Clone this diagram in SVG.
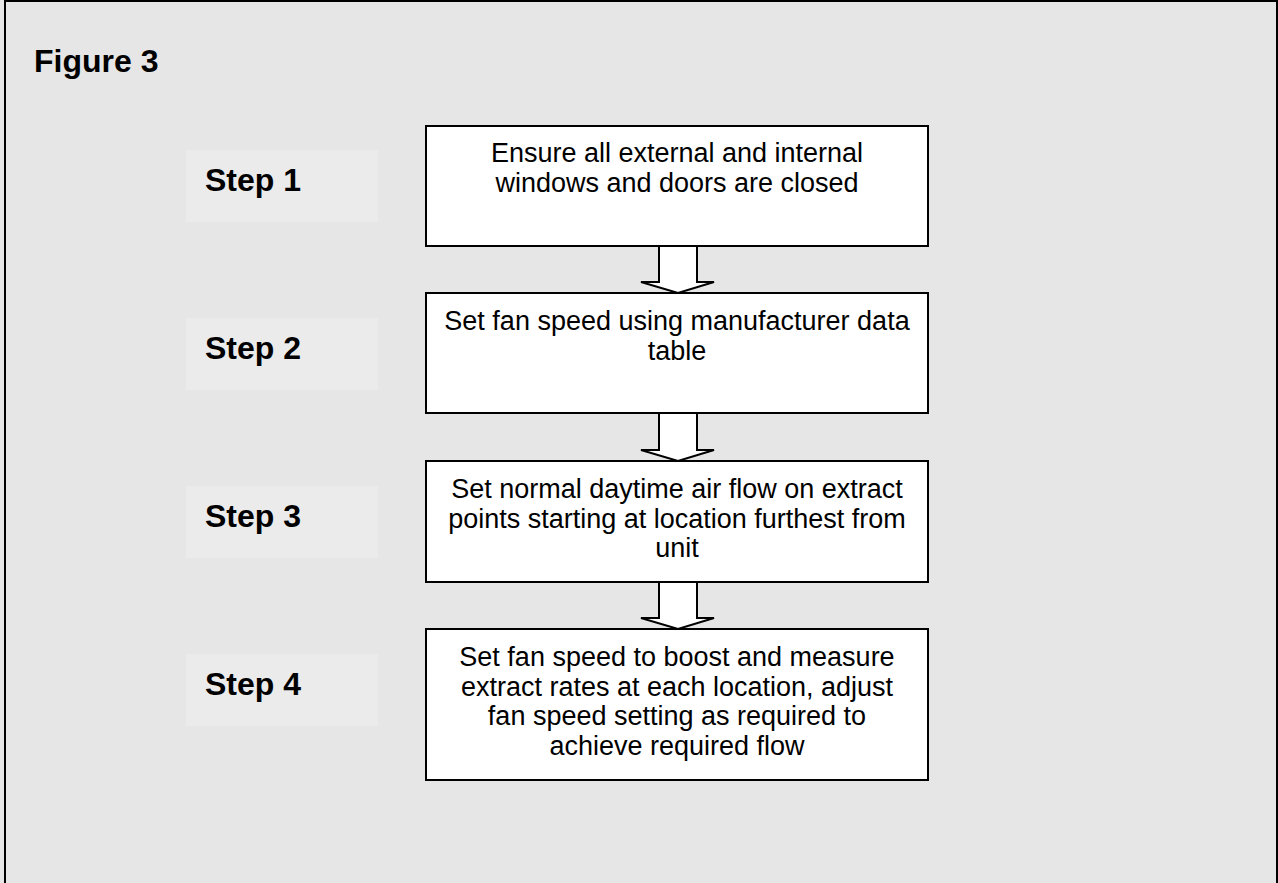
<svg xmlns="http://www.w3.org/2000/svg" width="1278" height="883" viewBox="0 0 1278 883">
<defs>
<style>
.bg{fill:#e6e6e6}
.frame{fill:#e6e6e6;stroke:#000;stroke-width:2}
.lbl{fill:#ebebeb}
.box{fill:#fff;stroke:#000;stroke-width:2}
.arrow{fill:#fff;stroke:#000;stroke-width:2;stroke-linejoin:miter}
.title{font-family:"Liberation Sans",Arial,sans-serif;font-weight:bold;font-size:32px;fill:#000}
.body{font-family:"Liberation Sans",Arial,sans-serif;font-size:27px;fill:#000;text-anchor:middle}
</style>
</defs>
<rect class="bg" x="0" y="0" width="1278" height="883"/>
<rect class="frame" x="5" y="1" width="1272" height="900"/>
<text class="title" x="34" y="72">Figure 3</text>

<g id="step1">
<rect class="lbl" x="186" y="150" width="192" height="72"/>
<text class="title" x="205" y="191">Step 1</text>
</g>
<g id="box1">
<rect class="box" x="426" y="126" width="502" height="120"/>
<text class="body" x="677" y="162">Ensure all external and internal</text>
<text class="body" x="677" y="191.5">windows and doors are closed</text>
</g>

<g id="step2">
<rect class="lbl" x="186" y="318" width="192" height="72"/>
<text class="title" x="205" y="359">Step 2</text>
</g>
<g id="box2">
<rect class="box" x="426" y="293" width="502" height="120"/>
<text class="body" x="677" y="330">Set fan speed using manufacturer data</text>
<text class="body" x="677" y="359.5">table</text>
</g>

<g id="step3">
<rect class="lbl" x="186" y="486" width="192" height="72"/>
<text class="title" x="205" y="527">Step 3</text>
</g>
<g id="box3">
<rect class="box" x="426" y="461" width="502" height="121"/>
<text class="body" x="677" y="498">Set normal daytime air flow on extract</text>
<text class="body" x="677" y="527.5">points starting at location furthest from</text>
<text class="body" x="677" y="557">unit</text>
</g>

<g id="step4">
<rect class="lbl" x="186" y="654" width="192" height="72"/>
<text class="title" x="205" y="695">Step 4</text>
</g>
<g id="box4">
<rect class="box" x="426" y="629" width="502" height="151"/>
<text class="body" x="677" y="666">Set fan speed to boost and measure</text>
<text class="body" x="677" y="695.5">extract rates at each location, adjust</text>
<text class="body" x="677" y="725">fan speed setting as required to</text>
<text class="body" x="677" y="754.5">achieve required flow</text>
</g>

<g id="connectors">
<polygon class="arrow" points="659,246 697,246 697,282 714,282 678,293 641,282 659,282"/>
<polygon class="arrow" points="659,413 697,413 697,450 714,450 678,461 641,450 659,450"/>
<polygon class="arrow" points="659,582 697,582 697,618 714,618 678,629 641,618 659,618"/>
</g>
</svg>
